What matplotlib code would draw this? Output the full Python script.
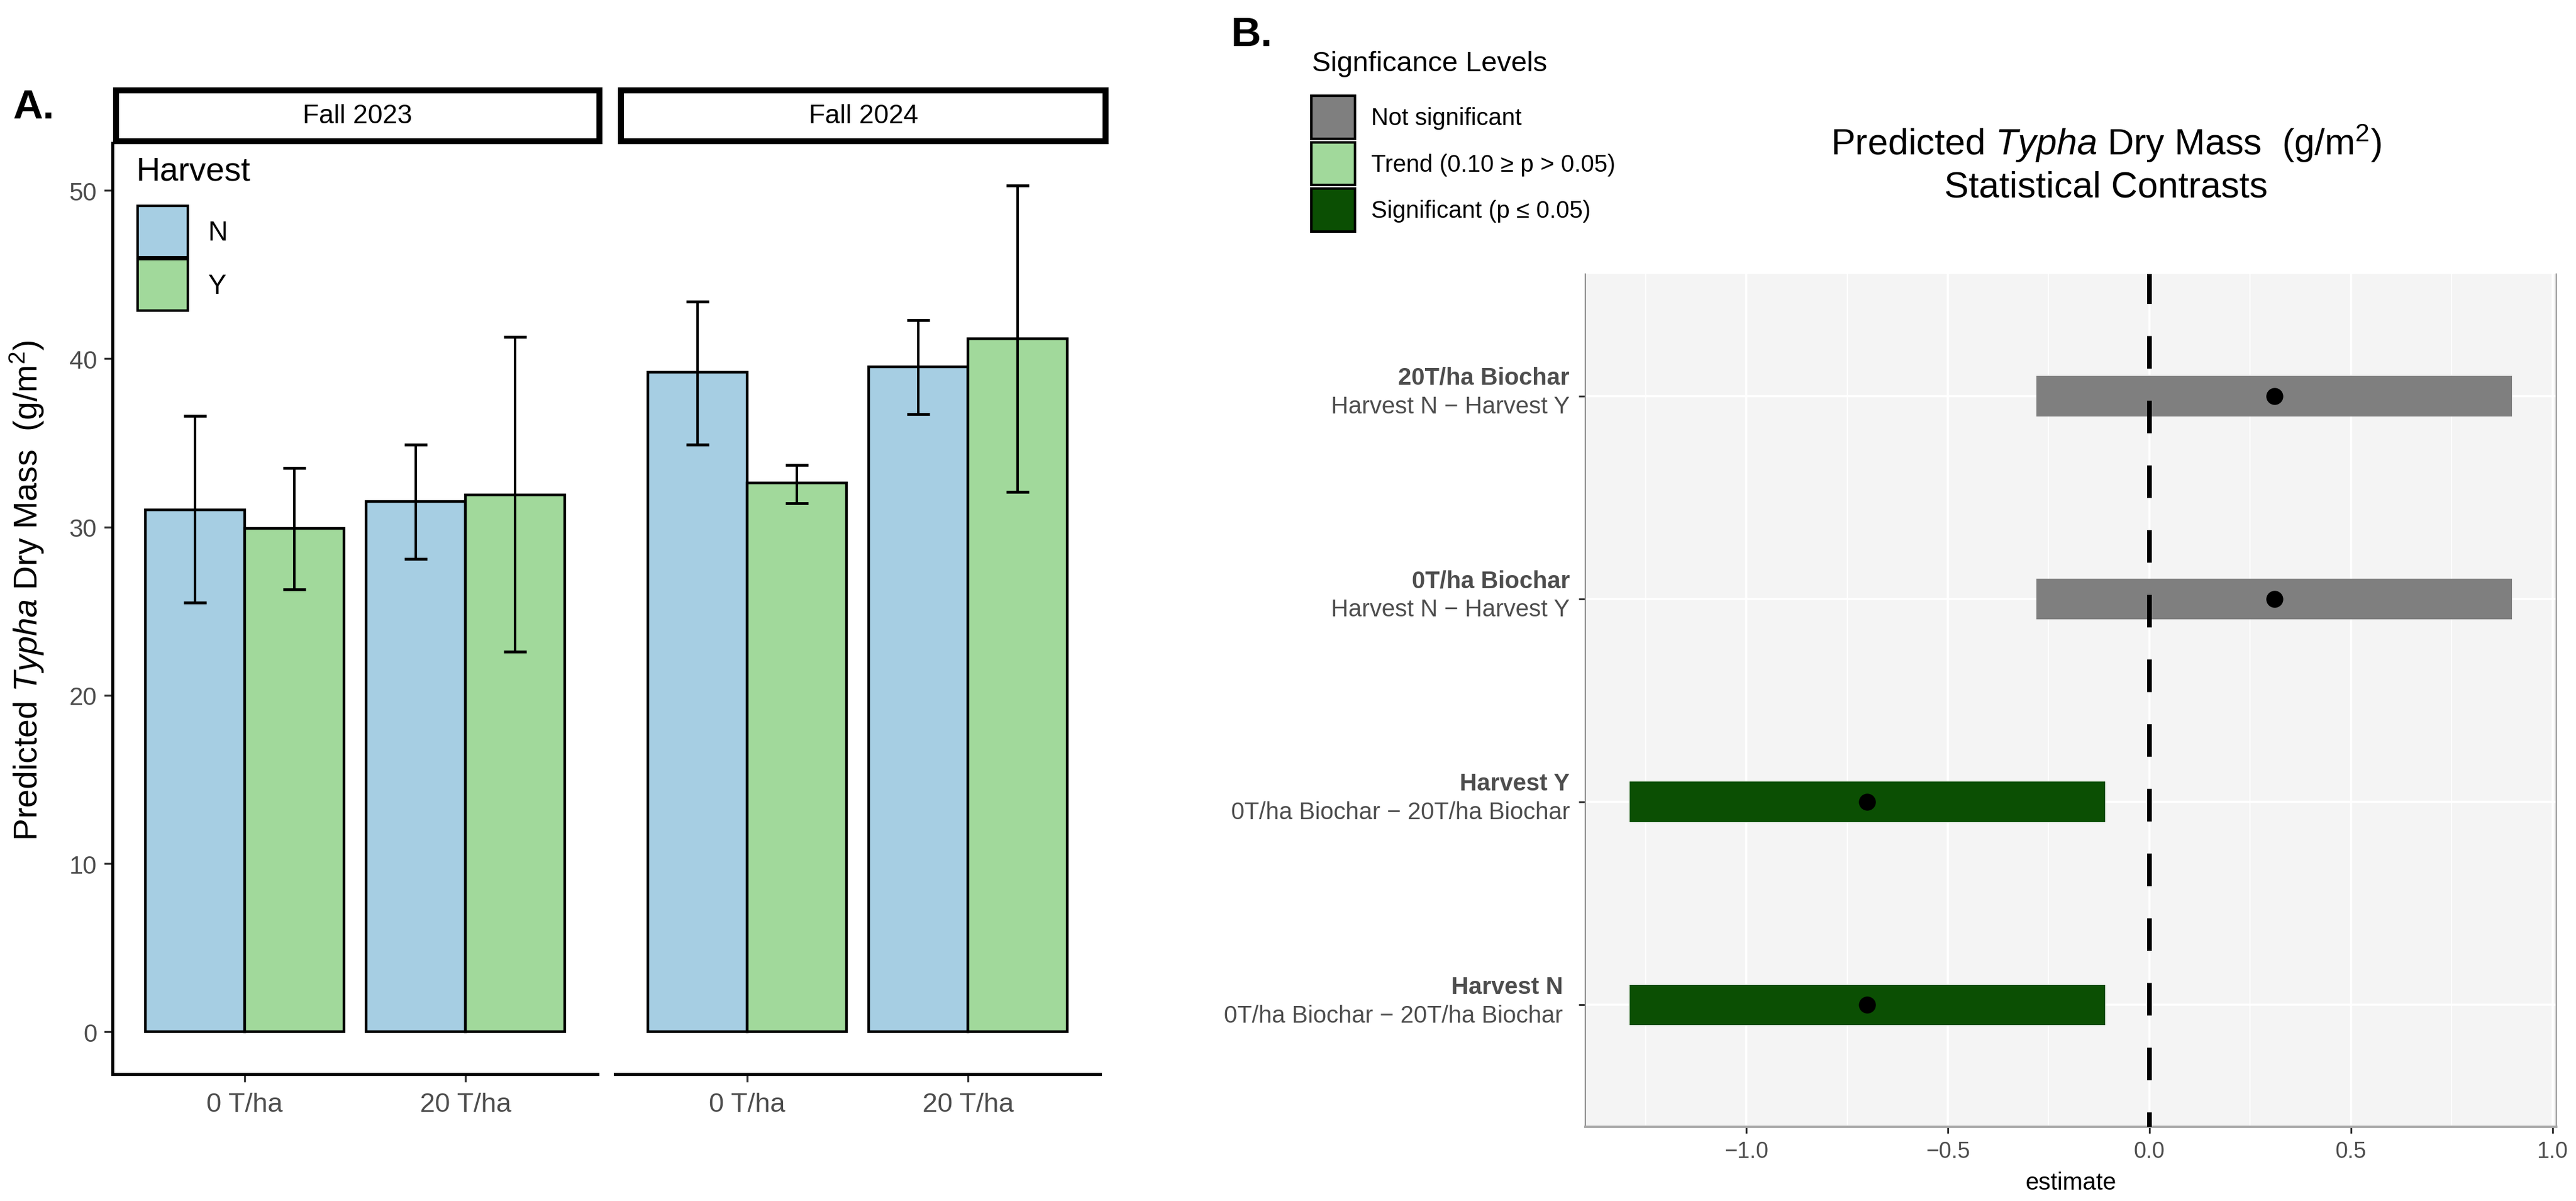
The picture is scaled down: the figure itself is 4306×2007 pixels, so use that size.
import matplotlib
matplotlib.use("Agg")
import matplotlib.pyplot as plt
from matplotlib.patches import Patch
from matplotlib.ticker import MultipleLocator
from matplotlib import transforms

plt.rcParams["font.family"] = ["Liberation Sans", "DejaVu Sans"]
plt.rcParams["mathtext.fontset"] = "custom"
plt.rcParams["mathtext.rm"] = "Liberation Sans"
plt.rcParams["mathtext.it"] = "Liberation Sans:italic"
plt.rcParams["mathtext.bf"] = "Liberation Sans:bold"

# --- panel A data: predicted Typha dry mass (g/m2) ---
seasons = ["Fall 2023", "Fall 2024"]
biochar = ["0 T/ha", "20 T/ha"]
harvest = ["N", "Y"]

fall23_N_mean = [31.0, 31.5]
fall23_N_low = [25.5, 28.1]
fall23_N_high = [36.6, 34.9]
fall23_Y_mean = [29.9, 31.9]
fall23_Y_low = [26.3, 22.6]
fall23_Y_high = [33.5, 41.3]

fall24_N_mean = [39.2, 39.5]
fall24_N_low = [34.9, 36.7]
fall24_N_high = [43.4, 42.3]
fall24_Y_mean = [32.6, 41.2]
fall24_Y_low = [31.4, 32.1]
fall24_Y_high = [33.7, 50.3]

# --- panel B data: contrasts (bottom to top) ---
contrast_group = ["Harvest N ", "Harvest Y", "0T/ha Biochar", "20T/ha Biochar"]
contrast_pair = ["0T/ha Biochar \u2212 20T/ha Biochar ", "0T/ha Biochar \u2212 20T/ha Biochar",
                 "Harvest N \u2212 Harvest Y", "Harvest N \u2212 Harvest Y"]
estimate = [-0.70, -0.70, 0.31, 0.31]
conf_low = [-1.29, -1.29, -0.28, -0.28]
conf_high = [-0.11, -0.11, 0.90, 0.90]
significance = ["Significant", "Significant", "Not significant", "Not significant"]

sig_levels = ["Not significant", "Trend", "Significant"]
sig_labels = ["Not significant", "Trend (0.10 \u2265 p > 0.05)", "Significant (p \u2264 0.05)"]
sig_colors = {"Not significant": "#7F7F7F", "Trend": "#A1D99B", "Significant": "#0B4F03"}
harvest_colors = {"N": "#A6CEE3", "Y": "#A1D99B"}

W, H = 4306, 2008
DPI = 200


def box(x0, y0, x1, y1):
    # pixel box (top-left origin) -> figure fraction rect
    return [x0 / W, 1 - y1 / H, (x1 - x0) / W, (y1 - y0) / H]


fig = plt.figure(figsize=(W / DPI, H / DPI), dpi=DPI)
fig.patch.set_facecolor("white")

# ================= Panel A =================
axA1 = fig.add_axes(box(188, 240, 999, 1796))
axA2 = fig.add_axes(box(1028, 240, 1839, 1796), sharey=axA1)

season_data = [
    [(fall23_N_mean, fall23_N_low, fall23_N_high), (fall23_Y_mean, fall23_Y_low, fall23_Y_high)],
    [(fall24_N_mean, fall24_N_low, fall24_N_high), (fall24_Y_mean, fall24_Y_low, fall24_Y_high)],
]

top = max(max(fall23_N_high), max(fall23_Y_high), max(fall24_N_high), max(fall24_Y_high))
pad = 0.05 * top
groups = list(range(1, len(biochar) + 1))
bw = 0.45

for ax, data in zip([axA1, axA2], season_data):
    for k, (h, (mean, low, high)) in enumerate(zip(harvest, data)):
        xs = [g + (k - 0.5) * bw for g in groups]
        ax.bar(xs, mean, width=bw, color=harvest_colors[h], edgecolor="black",
               linewidth=1.6, zorder=2)
        err = [[m - l for m, l in zip(mean, low)], [u - m for m, u in zip(mean, high)]]
        ax.errorbar(xs, mean, yerr=err, fmt="none", ecolor="black", elinewidth=1.5,
                    capsize=7, capthick=1.7, zorder=3)
    ax.set_xlim(0.4, len(biochar) + 0.6)
    ax.set_xticks(groups)
    ax.set_xticklabels(biochar)
    ax.spines["top"].set_visible(False)
    ax.spines["right"].set_visible(False)
    ax.spines["bottom"].set_linewidth(1.8)
    ax.spines["left"].set_linewidth(1.8)
    ax.tick_params(axis="x", length=4.8, width=1.2, color="#333333", pad=6,
                   labelsize=16.3, labelcolor="#4D4D4D")
    ax.tick_params(axis="y", length=5, width=1.2, color="#333333", pad=4.3,
                   labelsize=15, labelcolor="#4D4D4D")

axA1.set_ylim(-pad, top + pad)
axA1.set_yticks([0, 10, 20, 30, 40, 50])
axA1.set_ylabel(r"Predicted $\it{Typha}$ Dry Mass  (g/m$^{2}$)", fontsize=20, va="center")
axA1.yaxis.set_label_coords(-0.176, 0.52)
axA2.spines["left"].set_visible(False)
axA2.tick_params(axis="y", left=False, labelleft=False)

# facet strips
for (x0, x1), name in zip([(194, 1002), (1038, 1848)], seasons):
    sax = fig.add_axes(box(x0, 152, x1, 237))
    sax.set_xticks([])
    sax.set_yticks([])
    for sp in sax.spines.values():
        sp.set_linewidth(3.6)
    sax.text(0.5, 0.5, name, ha="center", va="center", fontsize=16, transform=sax.transAxes)

# harvest legend
fig.text(228 / W, 1 - 287 / H, "Harvest", fontsize=20, ha="left", va="center")
handlesA = [Patch(facecolor=harvest_colors[h], edgecolor="black", linewidth=1.5) for h in harvest]
legA = fig.legend(handlesA, harvest, loc="upper left", bbox_to_anchor=(230 / W, 1 - 345 / H),
                  frameon=False, fontsize=16.5, handlelength=1.83, handleheight=2.52,
                  labelspacing=0.05, handletextpad=0.72, borderpad=0, borderaxespad=0)

fig.text(21 / W, 1 - 198 / H, "A.", fontsize=25, fontweight="bold", ha="left", va="baseline")

# ================= Panel B =================
axB = fig.add_axes(box(2650, 459, 4273, 1884))
axB.set_facecolor("#F4F4F4")
ypos = list(range(1, len(estimate) + 1))
widths = [h - l for l, h in zip(conf_low, conf_high)]
axB.barh(ypos, widths, left=conf_low, height=0.2,
         color=[sig_colors[s] for s in significance], zorder=3)
axB.plot(estimate, ypos, "o", color="black", markersize=9.2, zorder=4)
axB.axvline(0, color="black", linewidth=2.8, linestyle=(3.9, (7.0, 6.9)), zorder=5)

xlo, xhi = min(conf_low), max(conf_high)
xpad = 0.05 * (xhi - xlo)
axB.set_xlim(xlo - xpad, xhi + xpad)
axB.set_ylim(0.4, len(estimate) + 0.6)
axB.xaxis.set_major_locator(MultipleLocator(0.5))
axB.xaxis.set_minor_locator(MultipleLocator(0.25))
axB.set_yticks(ypos)
axB.tick_params(axis="y", labelleft=False, length=4, width=1.1, color="#333333")
axB.tick_params(axis="x", which="major", length=4, width=1.1, color="#333333", pad=4.3,
                labelsize=13.5, labelcolor="#4D4D4D")
axB.tick_params(axis="x", which="minor", length=0)
axB.set_axisbelow(True)
axB.grid(which="major", color="white", linewidth=1.3)
axB.grid(which="minor", axis="x", color="white", linewidth=0.6)
axB.spines["top"].set_visible(False)
axB.spines["left"].set_color("#8C8C8C")
axB.spines["left"].set_linewidth(0.8)
axB.spines["right"].set_color("#9A9A9A")
axB.spines["right"].set_linewidth(0.8)
axB.spines["bottom"].set_color("#A8A8A8")
axB.spines["bottom"].set_linewidth(1.4)
axB.set_xlabel("estimate", fontsize=14.5, va="center")
axB.xaxis.set_label_coords(0.5, -0.0653)

# two-line category labels: bold group, plain contrast
base = transforms.blended_transform_factory(axB.transAxes, axB.transData)
t_bold = transforms.offset_copy(base, fig=fig, x=-9.4, y=7.1, units="points")
t_plain = transforms.offset_copy(base, fig=fig, x=-9.4, y=-10.2, units="points")
for y, g, p in zip(ypos, contrast_group, contrast_pair):
    axB.text(0, y, g, transform=t_bold, ha="right", va="baseline", fontsize=14.4,
             fontweight="bold", color="#4D4D4D")
    axB.text(0, y, p, transform=t_plain, ha="right", va="baseline", fontsize=14.4,
             color="#4D4D4D")

# titles
fig.text(3520 / W, 1 - 239 / H, r"Predicted $\it{Typha}$ Dry Mass  (g/m$^{2}$)",
         fontsize=22, ha="center", va="center")
fig.text(3520 / W, 1 - 314 / H, "Statistical Contrasts", fontsize=22, ha="center", va="center")

# significance legend
fig.text(2193 / W, 1 - 107 / H, "Signficance Levels", fontsize=17, ha="left", va="center")
handlesB = [Patch(facecolor=sig_colors[s], edgecolor="black", linewidth=1.5) for s in sig_levels]
legB = fig.legend(handlesB, sig_labels, loc="upper left", bbox_to_anchor=(2192 / W, 1 - 161 / H),
                  frameon=False, fontsize=14.4, handlelength=1.83, handleheight=2.39,
                  labelspacing=0.14, handletextpad=0.68, borderpad=0, borderaxespad=0)

fig.text(2057 / W, 1 - 77 / H, "B.", fontsize=25, fontweight="bold", ha="left", va="baseline")

fig.savefig("out.png", dpi=DPI)
